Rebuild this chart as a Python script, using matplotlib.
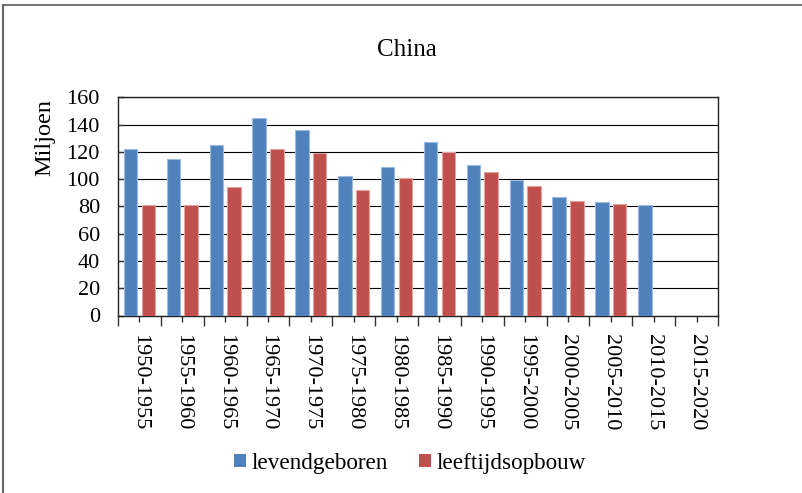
import numpy as np
import matplotlib
matplotlib.use("Agg")
import matplotlib.pyplot as plt
from matplotlib.patches import Patch
from matplotlib.lines import Line2D

plt.rcParams['font.family'] = ['Liberation Serif', 'DejaVu Serif']

periods = ["1950-1955", "1955-1960", "1960-1965", "1965-1970", "1970-1975",
           "1975-1980", "1980-1985", "1985-1990", "1990-1995", "1995-2000",
           "2000-2005", "2005-2010", "2010-2015", "2015-2020"]
levendgeboren = [122, 115, 125, 145, 136, 102, 109, 127.5, 110.5, 99, 87, 83.5, 81, np.nan]
leeftijdsopbouw = [81, 81, 94.5, 122, 119.5, 92, 100.5, 120, 105, 95, 84, 82, np.nan, np.nan]
yticks = [0, 20, 40, 60, 80, 100, 120, 140, 160]

W, H = 803, 493
fig = plt.figure(figsize=(W / 100, H / 100), dpi=100)

# outer frame (only top and left edges fall inside the image)
fig.add_artist(Line2D([3 / W, 1.0], [1 - 4.5 / H, 1 - 4.5 / H], transform=fig.transFigure,
                      color='#777777', lw=1.5))
fig.add_artist(Line2D([3 / W, 3 / W], [0.0, 1 - 4.5 / H], transform=fig.transFigure,
                      color='#666666', lw=1.5))

ax = fig.add_axes([118 / W, 1 - 315.5 / H, 600 / W, 218.2 / H])

x = np.arange(len(periods))
bw = 0.315
off = 0.207
blue, red = '#4F81BD', '#C0504D'
ax.bar(x - off, levendgeboren, bw, color=blue, edgecolor='#9DBBE0', linewidth=0.8, zorder=3)
ax.bar(x + off, leeftijdsopbouw, bw, color=red, edgecolor='#E2A3A1', linewidth=0.8, zorder=3)

ax.set_xlim(-0.5, len(periods) - 0.5)
ax.set_ylim(0, 160)
ax.set_yticks(yticks)
ax.yaxis.grid(True, color='black', lw=0.8, zorder=1)
ax.set_axisbelow(True)

# category boundaries as major ticks, labels at category centres
ax.set_xticks(np.arange(-0.5, len(periods), 1.0))
ax.set_xticklabels([])
ax.set_xticks(x, minor=True)
ax.set_xticklabels(periods, minor=True, rotation=270, ha='center', va='top', fontsize=16)
ax.tick_params(axis='x', which='major', direction='out', length=7, width=1, color='#333333')
ax.tick_params(axis='x', which='minor', direction='out', length=4, width=1, color='#333333', pad=9)
ax.tick_params(axis='y', direction='in', length=4, width=1, color='#333333', pad=13, labelsize=16)

for s in ax.spines.values():
    s.set_color('#222222')
    s.set_linewidth(1.0)

fig.text(407 / W, 1 - 50 / H, 'China', ha='center', va='center', fontsize=18)
fig.text(45 / W, 1 - 138 / H, 'Miljoen', ha='center', va='center', rotation=90, fontsize=17.5)

handles = [Patch(facecolor=blue, edgecolor='none', label='levendgeboren'),
           Patch(facecolor=red, edgecolor='none', label='leeftijdsopbouw')]
fig.legend(handles=handles, loc='center', bbox_to_anchor=(410 / W, 1 - 463 / H), ncol=2,
           frameon=False, fontsize=16.7, handlelength=0.52, handleheight=0.52,
           handletextpad=0.25, columnspacing=1.3)

fig.savefig('out.png', dpi=100)
